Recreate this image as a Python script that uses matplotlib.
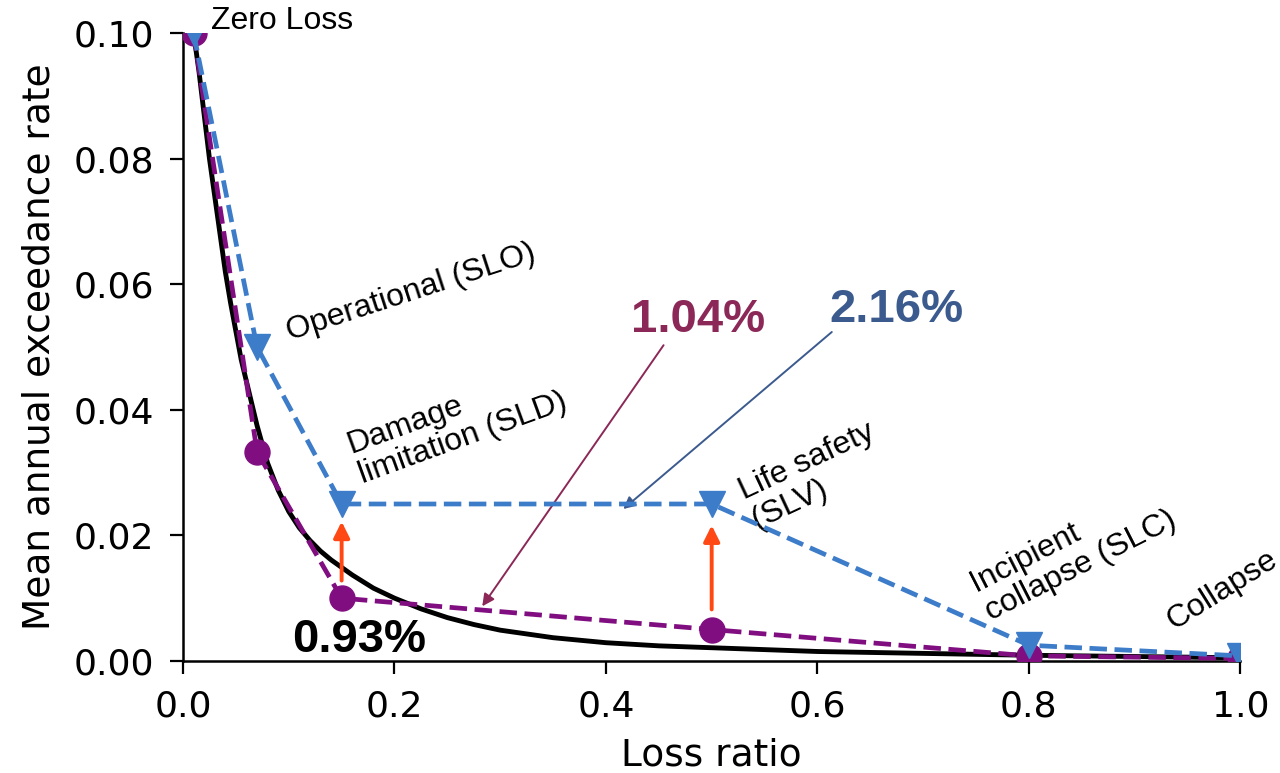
import matplotlib
matplotlib.use("Agg")
import matplotlib.pyplot as plt

# black curve
curva_x = [0.01, 0.015, 0.02, 0.025, 0.03, 0.035, 0.04, 0.045, 0.05, 0.055, 0.06, 0.07,
           0.08, 0.09, 0.10, 0.11, 0.12, 0.13, 0.14, 0.16, 0.18, 0.20, 0.225, 0.25, 0.275, 0.30,
           0.35, 0.40, 0.45, 0.50, 0.60, 0.70, 0.80, 0.90, 1.00]
curva_y = [0.100, 0.094, 0.087, 0.080, 0.074, 0.068, 0.062, 0.057, 0.0525, 0.048, 0.0445, 0.0375,
           0.0315, 0.0272, 0.0238, 0.0212, 0.0192, 0.0175, 0.0161, 0.0137, 0.0116, 0.0100, 0.0083,
           0.0069, 0.0058, 0.0049, 0.0037, 0.0029, 0.0024, 0.0021, 0.0015, 0.0012, 0.0009, 0.0007, 0.0005]

# purple dashed (circles) and blue dashed (triangles)
roxo_x = [0.01, 0.07, 0.15, 0.50, 0.80, 1.00]
roxo_y = [0.100, 0.0333, 0.0100, 0.0050, 0.0008, 0.0004]
azul_x = [0.01, 0.07, 0.15, 0.50, 0.80, 1.00]
azul_y = [0.100, 0.050, 0.025, 0.025, 0.0025, 0.0008]

rotulos = ["Zero Loss", "Operational (SLO)", "Damage\nlimitation (SLD)",
           "Life safety\n(SLV)", "Incipient\ncollapse (SLC)", "Collapse"]
valores = ["1.04%", "2.16%", "0.93%"]

AZUL = "#3D7CC9"
ROXO = "#800E80"
LARANJA = "#FF4813"

fig = plt.figure(figsize=(12.8, 7.73), dpi=100)
ax = fig.add_axes([0.143, 0.145, 0.826, 0.812])

ax.plot(curva_x, curva_y, color="black", lw=3.5, zorder=2)
ax.plot(roxo_x, roxo_y, "--", color=ROXO, lw=3.4, marker="o", ms=18, zorder=3)
ax.plot(azul_x, azul_y, "--", color=AZUL, lw=3.4, marker="v", ms=19, zorder=4)

ax.set_xlim(0, 1.0)
ax.set_ylim(0, 0.10)
ax.set_xticks([0.0, 0.2, 0.4, 0.6, 0.8, 1.0])
ax.set_yticks([0.0, 0.02, 0.04, 0.06, 0.08, 0.10])
ax.set_yticklabels(["0.00", "0.02", "0.04", "0.06", "0.08", "0.10"])
ax.tick_params(labelsize=26, length=9.5, width=1.6, pad=11)
ax.set_xlabel("Loss ratio", fontsize=27, labelpad=10)
ax.set_ylabel("Mean annual exceedance rate", fontsize=27, labelpad=12)
for lado in ["top", "right"]:
    ax.spines[lado].set_visible(False)
for lado in ["left", "bottom"]:
    ax.spines[lado].set_linewidth(1.8)

fonte = "Liberation Sans"
txt = dict(family=fonte, fontsize=23, rotation_mode="anchor", ha="left", va="bottom",
           clip_on=False, linespacing=1.1)
ax.text(0.026, 0.0995, rotulos[0], **txt)
ax.text(0.103, 0.0500, rotulos[1], rotation=18, **txt)
ax.text(0.172, 0.0272, rotulos[2], rotation=20, **txt)
ax.text(0.546, 0.0200, rotulos[3], rotation=25, **txt)
ax.text(0.767, 0.0054, rotulos[4], rotation=27, **txt)
ax.text(0.940, 0.0040, rotulos[5], rotation=32, **txt)

# bold percentages with thin arrows
negrito = dict(fontsize=34, fontweight="bold", family=fonte, ha="center", va="center")
ax.text(0.487, 0.0543, valores[0], color="#8B2857", **negrito)
ax.text(0.675, 0.0559, valores[1], color="#3B5A8E", **negrito)
ax.text(0.167, 0.0034, valores[2], color="black", **negrito)
ax.annotate("", xy=(0.283, 0.0087), xytext=(0.4545, 0.0503),
            arrowprops=dict(arrowstyle="-|>", color="#8B2857", lw=1.4,
                            shrinkA=0, shrinkB=0, mutation_scale=18))
ax.annotate("", xy=(0.4164, 0.0242), xytext=(0.6136, 0.0524),
            arrowprops=dict(arrowstyle="-|>", color="#3B5A8E", lw=1.4,
                            shrinkA=0, shrinkB=0, mutation_scale=18))

# orange increments
for xs, y0, y1 in [(0.15, 0.0128, 0.0222), (0.50, 0.0082, 0.0216)]:
    ax.annotate("", xy=(xs, y1), xytext=(xs, y0),
                arrowprops=dict(arrowstyle="-|>", color=LARANJA, lw=2.8,
                                shrinkA=0, shrinkB=0, mutation_scale=24))

fig.savefig("out.png", dpi=100)
